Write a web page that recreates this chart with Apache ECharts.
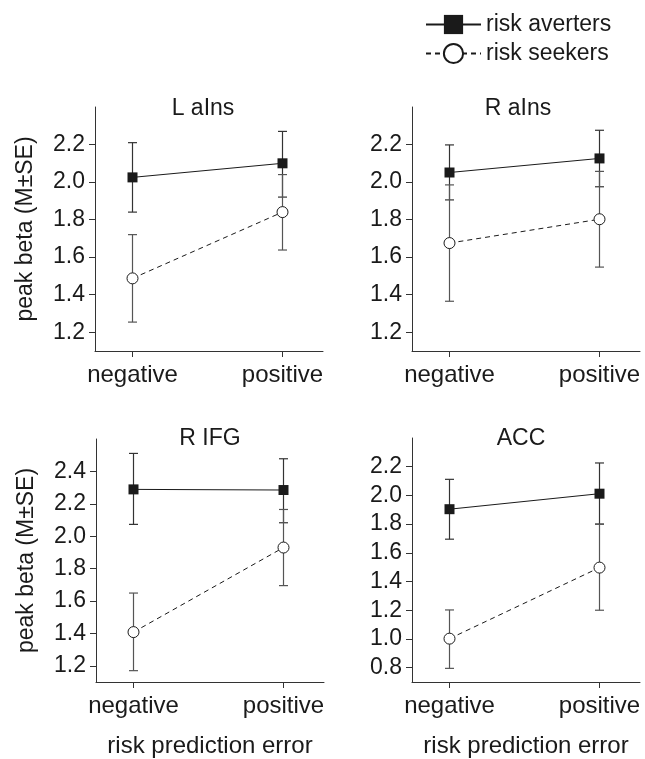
<!DOCTYPE html>
<html>
<head>
<meta charset="utf-8">
<script src="https://cdn.jsdelivr.net/npm/echarts@6/dist/echarts.min.js"></script>
<style>
html,body{margin:0;padding:0;background:#fff;}
#chart{width:645px;height:759px;}
</style>
</head>
<body>
<div id="chart"></div>
<script>
// ---- data ----
const categories = ['negative', 'positive'];
const seriesNames = ['risk averters', 'risk seekers'];
const panelTitles = ['L aIns', 'R aIns', 'R IFG', 'ACC'];

// means per panel [negative, positive]
const avertersMean = [[2.025, 2.10], [2.051, 2.126], [2.289, 2.285], [1.904, 2.012]];
const avertersLow  = [[1.84, 1.92], [1.905, 1.975], [2.073, 2.083], [1.695, 1.80]];
const avertersHigh = [[2.21, 2.27], [2.198, 2.276], [2.511, 2.478], [2.112, 2.226]];

const seekersMean = [[1.487, 1.84], [1.675, 1.802], [1.408, 1.93], [1.002, 1.497]];
const seekersLow  = [[1.254, 1.638], [1.365, 1.547], [1.17, 1.695], [0.795, 1.20]];
const seekersHigh = [[1.72, 2.04], [1.985, 2.057], [1.649, 2.165], [1.202, 1.80]];

const yTicks = [
  [1.2, 1.4, 1.6, 1.8, 2.0, 2.2],
  [1.2, 1.4, 1.6, 1.8, 2.0, 2.2],
  [1.2, 1.4, 1.6, 1.8, 2.0, 2.2, 2.4],
  [0.8, 1.0, 1.2, 1.4, 1.6, 1.8, 2.0, 2.2]
];
const yRange = [[1.1, 2.4], [1.1, 2.4], [1.1, 2.6], [0.7, 2.4]];

const yAxisName = 'peak beta (M±SE)';
const xAxisName = 'risk prediction error';

// ---- layout ----
const FONT = 'Liberation Sans';
const TXT = '#1a1a1a';
const AX = '#333';
const grids = [
  {left: 95, top: 107, width: 228, height: 244},
  {left: 412, top: 107, width: 228, height: 244},
  {left: 96, top: 439, width: 228, height: 243},
  {left: 412, top: 438, width: 228, height: 244}
];
const titlePos = [[198, 92], [513, 92], [205, 422], [516, 422]];

function errRender(color) {
  return function (params, api) {
    const x = api.value(0), lo = api.value(1), hi = api.value(2);
    const a = api.coord([x, lo]), b = api.coord([x, hi]);
    const w = 4.5;
    const st = {stroke: color, lineWidth: 1.2};
    return {type: 'group', children: [
      {type: 'line', shape: {x1: a[0], y1: a[1], x2: b[0], y2: b[1]}, style: st},
      {type: 'line', shape: {x1: a[0] - w, y1: a[1], x2: a[0] + w, y2: a[1]}, style: st},
      {type: 'line', shape: {x1: b[0] - w, y1: b[1], x2: b[0] + w, y2: b[1]}, style: st}
    ]};
  };
}

const option = {
  backgroundColor: '#fff',
  animation: false,
  textStyle: {fontFamily: FONT, color: TXT},
  title: panelTitles.map((t, i) => ({
    text: t, left: titlePos[i][0], top: titlePos[i][1], textAlign: 'center',
    textStyle: {fontFamily: FONT, fontSize: 23, fontWeight: 'normal', color: TXT}
  })),
  legend: {
    orient: 'vertical', left: 420, top: 8, itemWidth: 55, itemHeight: 24, itemGap: 6,
    data: seriesNames,
    textStyle: {fontFamily: FONT, fontSize: 23, color: TXT}
  },
  grid: grids,
  xAxis: grids.map((g, i) => ({
    type: 'value', gridIndex: i, min: -0.25, max: 1.27,
    name: i >= 2 ? xAxisName : '', nameLocation: 'middle', nameGap: 52,
    nameTextStyle: {fontFamily: FONT, fontSize: 24, color: TXT},
    splitLine: {show: false},
    axisLine: {show: true, onZero: false, lineStyle: {color: AX, width: 1}},
    axisTick: {show: true, length: 6, customValues: [0, 1], lineStyle: {color: AX}},
    axisLabel: {customValues: [0, 1], margin: 12, fontFamily: FONT, fontSize: 24, color: TXT,
      formatter: v => categories[Math.round(v)]}
  })),
  yAxis: grids.map((g, i) => ({
    type: 'value', gridIndex: i, min: yRange[i][0], max: yRange[i][1],
    name: (i === 0 || i === 2) ? yAxisName : '', nameLocation: 'middle', nameGap: 58, nameRotate: 90,
    nameTextStyle: {fontFamily: FONT, fontSize: 23, color: TXT},
    splitLine: {show: false},
    axisLine: {show: true, onZero: false, lineStyle: {color: AX, width: 1}},
    axisTick: {show: true, length: 6, customValues: yTicks[i], lineStyle: {color: AX}},
    axisLabel: {customValues: yTicks[i], margin: 10, fontFamily: FONT, fontSize: 23, color: TXT,
      formatter: v => v.toFixed(1)}
  })),
  series: []
};

for (let i = 0; i < 4; i++) {
  option.series.push({
    type: 'custom', name: seriesNames[0] + ' SE', xAxisIndex: i, yAxisIndex: i, z: 1,
    renderItem: errRender('#333'), encode: {x: 0, y: [1, 2]},
    data: categories.map((c, k) => [k, avertersLow[i][k], avertersHigh[i][k]])
  });
  option.series.push({
    type: 'custom', name: seriesNames[1] + ' SE', xAxisIndex: i, yAxisIndex: i, z: 1,
    renderItem: errRender('#555'), encode: {x: 0, y: [1, 2]},
    data: categories.map((c, k) => [k, seekersLow[i][k], seekersHigh[i][k]])
  });
  option.series.push({
    type: 'line', name: seriesNames[0], xAxisIndex: i, yAxisIndex: i, z: 3,
    symbol: 'rect', symbolSize: 10, showAllSymbol: true,
    lineStyle: {color: '#1a1a1a', width: 1},
    itemStyle: {color: '#1a1a1a', borderColor: '#1a1a1a', borderWidth: 0},
    data: categories.map((c, k) => [k, avertersMean[i][k]])
  });
  option.series.push({
    type: 'line', name: seriesNames[1], xAxisIndex: i, yAxisIndex: i, z: 3,
    symbol: 'circle', symbolSize: 11, showAllSymbol: true,
    lineStyle: {color: '#1a1a1a', width: 1, type: [5, 4]},
    itemStyle: {color: '#fff', borderColor: '#1a1a1a', borderWidth: 1},
    data: categories.map((c, k) => [k, seekersMean[i][k]])
  });
}

const chart = echarts.init(document.getElementById('chart'), null, {renderer: 'canvas'});
chart.setOption(option);
</script>
</body>
</html>
